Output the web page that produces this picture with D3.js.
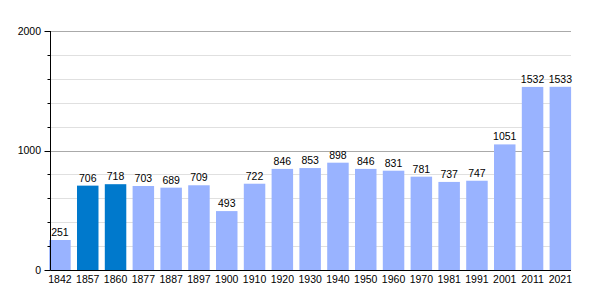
<!DOCTYPE html>
<html>
  <head>
    <meta http-equiv="Content-Type" content="text/html;charset=utf-8">
    <title>Population</title>
    <script src="https://d3js.org/d3.v7.min.js"></script>
    <style type="text/css">
body {
    margin: 0;
    background: #fff;
}
text {
    font-family: "Liberation Sans", Arial, sans-serif;
    font-size: 10.5px;
    fill: #000;
}
line.minor {
    stroke: #e0e0e0;
    stroke-width: 1px;
}
line.major {
    stroke: #aaa;
    stroke-width: 1px;
}
line.axis, line.tick {
    stroke: #000;
    stroke-width: 1px;
}
    </style>
  </head>
  <body>
    <script type="text/javascript">
// data
var years = ['1842', '1857', '1860', '1877', '1887', '1897', '1900', '1910', '1920', '1930',
             '1940', '1950', '1960', '1970', '1981', '1991', '2001', '2011', '2021'];
var population = [251, 706, 718, 703, 689, 709, 493, 722, 846, 853,
                  898, 846, 831, 781, 737, 747, 1051, 1532, 1533];
var highlighted = ['1857', '1860'];
var yTicks = [0, 1000, 2000];

// chart
var w = 600,
    h = 300,
    plotLeft = 50.5,
    plotRight = 571,
    plotTop = 31,
    plotBottom = 270;

var svg = d3.select('body').append('svg')
    .attr('width', w)
    .attr('height', h);

var x = d3.scaleBand()
    .domain(years)
    .range([49.2, 571.1])
    .paddingInner(0.227)
    .paddingOuter(0);

var y = d3.scaleLinear()
    .domain([0, 2000])
    .range([plotBottom, plotTop]);

function py(d) { return Math.round(y(d)) + 0.5 }

// grid
var minor = d3.range(0, 2001, 200).filter(function(d) { return d % 1000 !== 0 });
svg.selectAll('line.minor')
    .data(minor)
  .enter().append('line')
    .attr('class', 'minor')
    .attr('x1', plotLeft)
    .attr('x2', plotRight)
    .attr('y1', py)
    .attr('y2', py);

svg.selectAll('line.major')
    .data(yTicks.filter(function(d) { return d > 0 }))
  .enter().append('line')
    .attr('class', 'major')
    .attr('x1', plotLeft)
    .attr('x2', plotRight)
    .attr('y1', py)
    .attr('y2', py);

// bars
svg.selectAll('rect.bar')
    .data(years)
  .enter().append('rect')
    .attr('class', 'bar')
    .attr('x', function(d) { return x(d) })
    .attr('width', x.bandwidth())
    .attr('y', function(d, i) { return y(population[i]) })
    .attr('height', function(d, i) { return plotBottom - y(population[i]) })
    .attr('fill', function(d) { return highlighted.indexOf(d) >= 0 ? '#0079cc' : '#99b3ff' });

// value labels
svg.selectAll('text.val')
    .data(years)
  .enter().append('text')
    .attr('class', 'val')
    .attr('x', function(d) { return x(d) + x.bandwidth() / 2 })
    .attr('y', function(d, i) { return y(population[i]) - 4 })
    .attr('text-anchor', 'middle')
    .text(function(d, i) { return population[i] });

// x labels
svg.selectAll('text.year')
    .data(years)
  .enter().append('text')
    .attr('class', 'year')
    .attr('x', function(d) { return x(d) + x.bandwidth() / 2 })
    .attr('y', plotBottom + 12.5)
    .attr('text-anchor', 'middle')
    .text(function(d) { return d });

// axes
svg.selectAll('line.tick')
    .data(d3.range(0, 2001, 200))
  .enter().append('line')
    .attr('class', 'tick')
    .attr('x1', function(d) { return d % 1000 === 0 ? plotLeft - 6 : plotLeft - 3 })
    .attr('x2', plotLeft)
    .attr('y1', py)
    .attr('y2', py);

svg.selectAll('text.ytick')
    .data(yTicks)
  .enter().append('text')
    .attr('class', 'ytick')
    .attr('x', 41)
    .attr('y', function(d) { return y(d) + 3.5 })
    .attr('text-anchor', 'end')
    .text(function(d) { return d });

svg.append('line')
    .attr('class', 'axis')
    .attr('x1', plotLeft).attr('x2', plotLeft)
    .attr('y1', plotTop).attr('y2', plotBottom + 0.5);

svg.append('line')
    .attr('class', 'axis')
    .attr('x1', plotLeft).attr('x2', plotRight)
    .attr('y1', plotBottom + 0.5).attr('y2', plotBottom + 0.5);
    </script>
  </body>
</html>
